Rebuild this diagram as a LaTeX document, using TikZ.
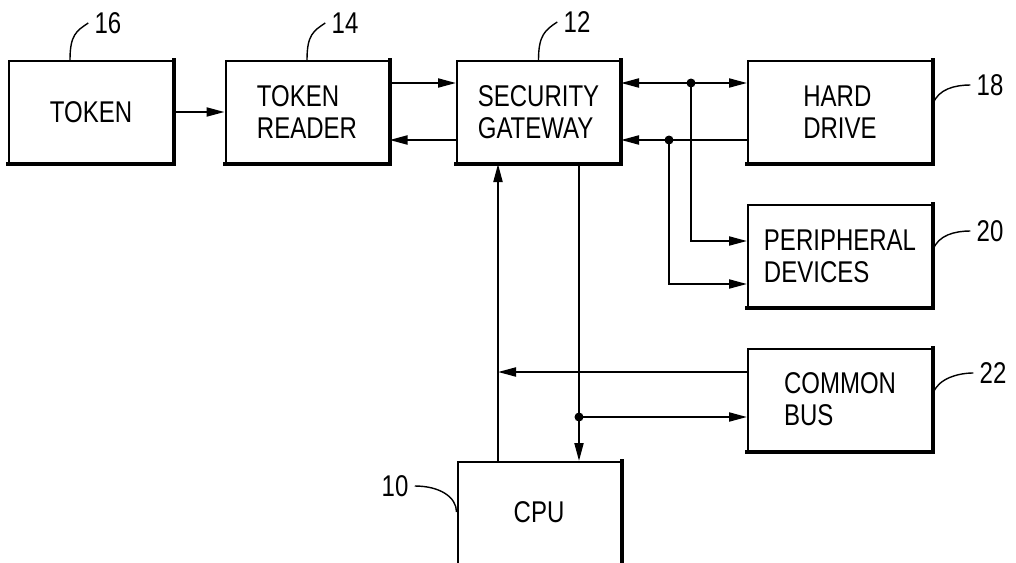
\documentclass[tikz,border=0pt]{standalone}
\usepackage{fontspec}
\setmainfont[FakeStretch=0.8]{Liberation Sans}
\usetikzlibrary{arrows.meta}

\tikzset{
	block/.style={draw, line width=1pt, minimum width=81.5pt, minimum height=51pt,
		align=left, inner sep=2pt, font=\fontsize{15}{16}\selectfont,
		append after command={\pgfextra{\draw[line width=2pt, line cap=rect]
			(\tikzlastnode.north east) -- (\tikzlastnode.south east) -- (\tikzlastnode.south west);}}},
	wide/.style={minimum width=92pt},
	arr/.style={line width=1pt, -{Triangle[length=9pt,width=4.5pt]}},
	arrboth/.style={line width=1pt, {Triangle[length=9pt,width=4.5pt]}-{Triangle[length=9pt,width=4.5pt]}},
	jdot/.style={circle, fill, inner sep=0pt, minimum size=4.5pt},
	num/.style={inner sep=3pt, font=\fontsize{15}{16}\selectfont},
	lead/.style={line width=0.7pt}
}

\begin{document}
\begin{tikzpicture}[x=0.5pt, y=-0.5pt]
		%%%%% START %%%%%
		\useasboundingbox (0,0) rectangle (1016,562);
		
		\node[block, minimum width=82pt] (token) at (91,112) {TOKEN};
		\node[block] (reader) at (307,112) {TOKEN\\READER};
		\node[block] (gate) at (538.5,112) {SECURITY\\GATEWAY};
		\node[block, wide] (drive) at (840,112) {HARD\\DRIVE};
		\node[block, wide] (periph) at (840,256) {PERIPHERAL\\DEVICES};
		\node[block, wide] (bus) at (840,399.5) {COMMON\\BUS};
		\node[block, minimum height=60pt, text depth=10pt] (cpu) at (539,522) {CPU};
		
		\coordinate (hi) at (0,83);
		\coordinate (lo) at (0,140);
		\coordinate (phi) at (0,241);
		\coordinate (plo) at (0,284);
		\coordinate (bhi) at (0,372);
		\coordinate (blo) at (0,417);
		\coordinate (up) at (498,0);
		\coordinate (dn) at (579,0);
		
		\draw[arr] (token) -- (reader);
		\draw[arr] (reader.east |- hi) -- (gate.west |- hi);
		\draw[arr] (gate.west |- lo) -- (reader.east |- lo);
		
		\draw[arrboth] (gate.east |- hi) -- (drive.west |- hi);
		\draw[arr] (drive.west |- lo) -- (gate.east |- lo);
		\node[jdot] (j1) at (691,83) {};
		\node[jdot] (j2) at (669,140) {};
		\draw[arr] (j1.center) |- (periph.west |- phi);
		\draw[arr] (j2.center) |- (periph.west |- plo);
		
		\draw[arr] (cpu.north -| up) -- (gate.south -| up);
		\draw[arr] (gate.south -| dn) -- (cpu.north -| dn);
		\draw[arr] (bus.west |- bhi) -- (up |- bhi);
		\node[jdot] (j3) at (dn |- blo) {};
		\draw[arr] (j3.center) -- (bus.west |- blo);
		
		% reference numerals
		\node[num] (n16) at (108,23) {16};
		\node[num] (n14) at (345,23) {14};
		\node[num] (n12) at (577,22) {12};
		\node[num] (n18) at (990,85) {18};
		\node[num] (n20) at (990,231) {20};
		\node[num] (n22) at (993,373) {22};
		\node[num] (n10) at (395,486) {10};
		
		\draw[lead] ([xshift=-10.5pt]token.north) .. controls +(0,-25) and +(-12,8) .. (n16.west);
		\draw[lead] (reader.north) .. controls +(0,-25) and +(-12,8) .. (n14.west);
		\draw[lead] (gate.north) .. controls +(0,-25) and +(-12,8) .. (n12.west);
		\draw[lead] ([yshift=4pt]drive.east) .. controls +(5,-15) and +(-15,0) .. (n18.west);
		\draw[lead] ([yshift=3pt]periph.east) .. controls +(5,-15) and +(-15,0) .. (n20.west);
		\draw[lead] ([yshift=3pt]bus.east) .. controls +(5,-15) and +(-15,0) .. (n22.west);
		\draw[lead] (n10.east) .. controls +(25,0) and +(0,-15) .. ([yshift=5pt]cpu.west);
		
		%%%%% END %%%%%
\end{tikzpicture}
\end{document}
